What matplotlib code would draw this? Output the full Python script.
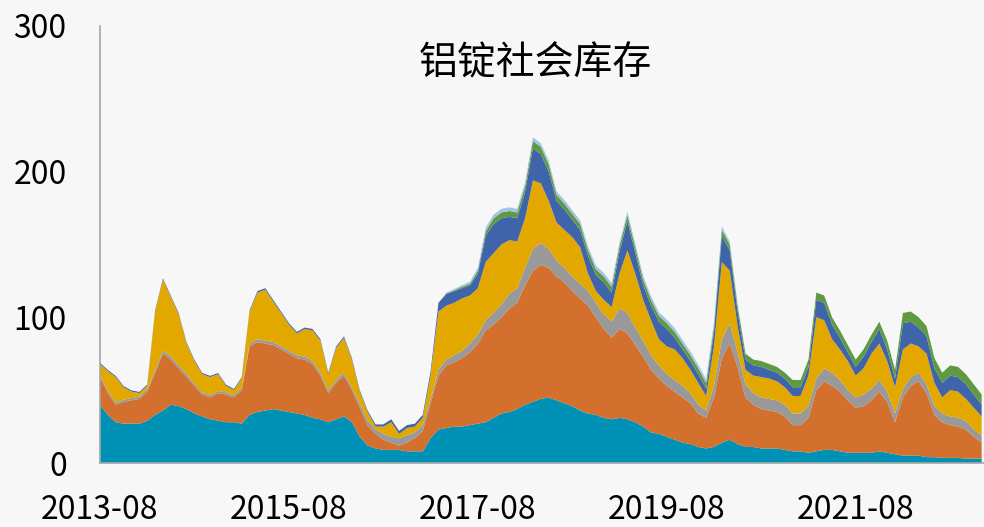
import numpy as np
import pandas as pd
import matplotlib
matplotlib.use("Agg")
import matplotlib.pyplot as plt

plt.rcParams['font.family'] = ['Noto Sans CJK SC', 'DejaVu Sans']

# 月度数据 2013-08 ~ 2022-12（万吨）
months = [str(p) for p in pd.period_range('2013-08', '2022-12', freq='M')]
tick_labels = ['2013-08', '2015-08', '2017-08', '2019-08', '2021-08']

teal = [40, 33, 28, 27, 27, 27, 29, 33, 36, 40,
        39, 37, 34, 32, 30, 29, 28, 28, 27, 33,
        35, 36, 37, 36, 35, 34, 33, 31, 30, 28,
        30, 32, 28, 18, 12, 10, 9, 9, 9, 8,
        8, 8, 17, 23, 24, 25, 25, 26, 27, 28,
        31, 34, 35, 37, 40, 42, 44, 45, 43, 41,
        39, 36, 34, 33, 31, 30, 31, 30, 28, 25,
        21, 20, 18, 16, 14, 13, 11, 10, 11, 14,
        16, 13, 11, 11, 10, 10, 10, 9, 8, 8,
        7, 8, 9, 9, 8, 7, 7, 7, 7, 8,
        7, 6, 5, 5, 5, 4, 4, 3.5, 3.5, 3.5,
        3, 3, 3]
orange = [19, 15, 12, 15, 16, 17, 20, 29, 39, 31,
          26, 22, 19, 15, 15, 19, 19, 17, 23, 47,
          48, 46, 44, 42, 40, 38, 38, 37, 30, 20,
          25, 28, 22, 20, 14, 10, 7, 5, 3, 6,
          9, 14, 24, 37, 43, 44, 47, 50, 55, 63,
          64, 66, 71, 73, 82, 90, 92, 89, 85, 83,
          79, 77, 74, 67, 61, 56, 61, 59, 53, 48,
          43, 38, 35, 33, 31, 28, 23, 21, 34, 58,
          66, 53, 34, 29, 27, 26, 25, 23, 18, 18,
          24, 42, 47, 44, 41, 36, 31, 32, 36, 41,
          35, 22, 40, 48, 51, 44, 29, 24.5, 22.5, 21.5,
          20, 15, 11]
gray = [1.5, 1.5, 1.5, 1.5, 1.5, 1.5, 1.5, 2, 2, 2,
        2, 2, 1.5, 1.5, 1.5, 1.5, 1.5, 1.5, 1.5, 2,
        2, 2, 2, 2, 2, 2, 2, 2, 2, 2,
        2, 2, 2, 3, 3, 3, 4, 4, 5, 5,
        4, 4, 3, 4, 4, 5, 5, 6, 6, 7,
        8, 9, 10, 10, 12, 15, 15, 13, 11, 10,
        10, 10, 10, 10, 10, 11, 14, 14, 12, 11,
        10, 9, 8, 8, 8, 7, 6, 5, 8, 13,
        14, 10, 9, 8, 8, 8, 8, 8, 8, 8,
        8, 8, 9, 9, 8, 7, 7, 8, 8, 8,
        7, 6, 6, 6, 6, 6, 6, 6, 6, 6,
        6, 5, 5]
yellow = [7.5, 13.5, 17.5, 8.5, 4.5, 2.5, 2.5, 40, 49, 41,
          35, 21, 15.5, 12.5, 12.5, 11.5, 4.5, 3.5, 6.5, 22,
          32, 35, 28, 23, 18, 15, 19, 21, 22, 11,
          22, 24, 19, 8, 6, 2, 5, 10, 3, 5,
          4, 5, 16, 40, 37, 36, 36, 33, 32, 40,
          41, 41, 37, 32, 34, 47, 41, 33, 26, 26,
          27, 25, 12, 8, 10, 10, 24, 43, 37, 28,
          24, 18, 19, 21, 19, 16, 15, 10, 27, 53,
          36, 18, 10, 12, 14, 14, 13, 12, 12, 12,
          21, 42, 33, 23, 21, 20, 15, 18, 24, 25,
          21, 18, 27, 23, 18, 21, 16, 11, 18, 18,
          15, 15, 13]
blue = [0.8, 0.8, 0.8, 0.8, 0.8, 0.8, 0.8, 0.8, 0.8, 0.8,
        0.8, 0.8, 0.8, 0.8, 0.8, 0.8, 0.8, 0.8, 0.8, 0.8,
        1, 1, 1, 1, 1, 1, 1, 1, 1, 1,
        1, 1, 1, 1, 1, 1.5, 1.5, 2, 2, 2,
        2, 2, 3, 6, 8, 8, 7, 7, 10, 18,
        20, 18, 16, 16, 18, 22, 20, 20, 15, 14,
        12, 12, 12, 11, 12, 10, 15, 20, 14, 10,
        10, 12, 12, 8, 6, 6, 6, 5, 10, 18,
        14, 10, 7, 7, 7, 6, 6, 6, 6, 6,
        6, 12, 12, 10, 8, 6, 6, 8, 8, 10,
        8, 6, 18, 15, 13, 12, 10, 10, 10, 10,
        10, 9, 8]
green = [0, 0, 0, 0, 0, 0, 0, 0, 0, 0,
         0, 0, 0, 0, 0, 0, 0, 0, 0, 0,
         0, 0, 0, 0, 0, 0, 0, 0, 0, 0,
         0, 0, 0, 0, 0, 0, 0, 0, 0, 0,
         0, 0, 0, 0, 0.5, 0.5, 1, 1, 2, 3,
         4, 4, 4, 4, 4, 5, 5, 5, 4, 4,
         4, 4, 4, 4, 4, 4, 4, 4, 4, 4,
         4, 4, 4, 4, 4, 4, 4, 4, 4, 4,
         4, 4, 4, 4, 4, 4, 4, 4, 5, 5,
         5, 5, 5, 5, 5, 5, 5, 5, 5, 5,
         6, 6, 7, 7, 7, 7, 7, 7, 7, 7,
         7, 7, 7]
light_blue = [0, 0, 0, 0, 0, 0, 0, 0, 0, 0,
              0, 0, 0, 0, 0, 0, 0, 0, 0, 0,
              0, 0, 0, 0, 0, 0, 0, 0, 0, 0,
              0, 0, 0, 0, 0, 0, 0, 0, 0, 0,
              0, 0, 0, 0, 0.5, 1, 1, 1.5, 2, 2.5,
              2.5, 2.5, 2.5, 2.5, 2.5, 2.5, 2.5, 2.5, 2.5, 2.5,
              2.5, 2.5, 2.5, 2.5, 2.5, 2.5, 2.5, 2.5, 2.5, 2.5,
              2.5, 2.5, 2.5, 2.5, 2.5, 2.5, 2.5, 2.5, 2.5, 2.5,
              2, 1, 0.5, 0, 0, 0, 0, 0, 0, 0,
              0, 0, 0, 0, 0, 0, 0, 0, 0, 0,
              0, 0, 0, 0, 0, 0, 0, 0, 0, 0,
              0, 0, 0]

colors = ['#0091B7', '#D4702E', '#999999', '#E3A800', '#3F64AA', '#5F9A42', '#A0C4E6']

fig = plt.figure(figsize=(9.84, 5.27), dpi=100)
fig.patch.set_facecolor('#F7F7F7')
ax = fig.add_axes([100 / 984, 64 / 527, 884 / 984, 437 / 527])
ax.set_facecolor('#F7F7F7')

x = np.arange(len(months))
ax.stackplot(x, teal, orange, gray, yellow, blue, green, light_blue,
             colors=colors, linewidth=0)

ax.set_xlim(0, 112.3)
ax.set_ylim(0, 300)
ax.set_yticks([0, 100, 200, 300])
ax.set_xticks([months.index(t) for t in tick_labels])
ax.set_xticklabels(tick_labels)
ax.tick_params(length=0, labelsize=23, colors='black')
ax.tick_params(axis='y', pad=24)
ax.tick_params(axis='x', pad=22)

for side in ['top', 'right']:
    ax.spines[side].set_visible(False)
for side in ['left', 'bottom']:
    ax.spines[side].set_color('#A6A6A6')
    ax.spines[side].set_linewidth(1.2)

fig.text(0.544, 0.88, '铝锭社会库存', fontsize=28, ha='center', va='center')

fig.savefig('out.png', dpi=100, facecolor=fig.get_facecolor())
